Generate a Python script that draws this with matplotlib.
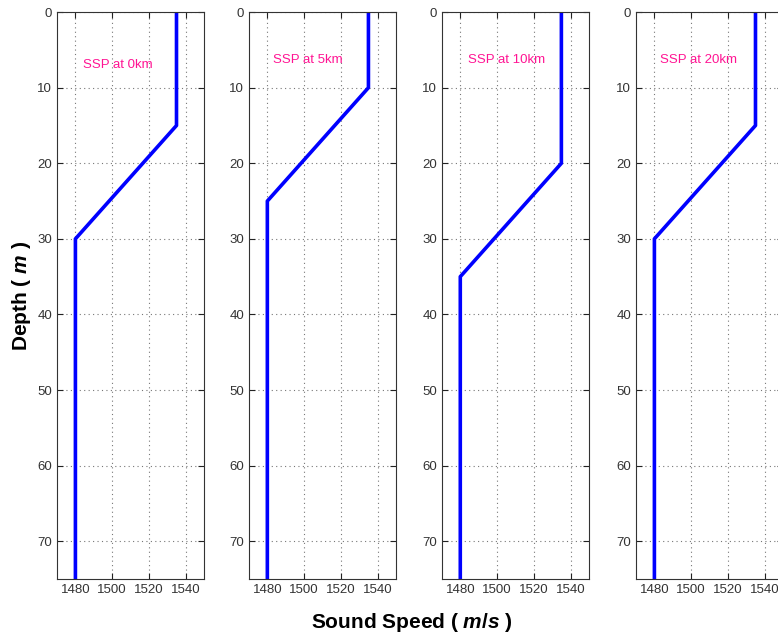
import numpy as np
import matplotlib
matplotlib.use("Agg")
import matplotlib.pyplot as plt

plt.rcParams['font.family'] = ['Liberation Sans', 'DejaVu Sans']
plt.rcParams['mathtext.fontset'] = 'custom'
plt.rcParams['mathtext.it'] = 'Liberation Sans:bold:italic'
plt.rcParams['mathtext.rm'] = 'Liberation Sans:bold'

# Sound speed profiles: (depth, speed) breakpoints per range
ranges = ["0km", "5km", "10km", "20km"]
depths = [
    [0, 15, 30, 75],
    [0, 10, 25, 75],
    [0, 20, 35, 75],
    [0, 15, 30, 75],
]
speeds = [
    [1535, 1535, 1480, 1480],
    [1535, 1535, 1480, 1480],
    [1535, 1535, 1480, 1480],
    [1535, 1535, 1480, 1480],
]
label_pos = [(1503, 7), (1502, 6.4), (1505, 6.4), (1504, 6.4)]
xticks = [1480, 1500, 1520, 1540]
yticks = [0, 10, 20, 30, 40, 50, 60, 70]

fig = plt.figure(figsize=(7.78, 6.37), dpi=100)
lefts = [0.0733, 0.320, 0.568, 0.8175]

for i in range(4):
    ax = fig.add_axes([lefts[i], 0.091, 0.189, 0.890])
    ax.plot(speeds[i], depths[i], color='#0000ff', linewidth=2.6)
    ax.set_xlim(1470, 1550)
    ax.set_ylim(75, 0)
    ax.set_xticks(xticks)
    ax.set_yticks(yticks)
    ax.grid(True, linestyle=(0, (1, 3)), color='#777777', linewidth=0.8)
    ax.tick_params(direction='in', length=4, labelsize=9.5, colors='#222222',
                   right=True, top=True, labelcolor='#333333')
    for s in ax.spines.values():
        s.set_color('#333333')
        s.set_linewidth(0.8)
    ax.text(label_pos[i][0], label_pos[i][1], "SSP at " + ranges[i],
            color='#ff1493', fontsize=9.5, ha='center', va='center')

fig.text(0.028, 0.535, r"Depth ( $\it{m}$ )", rotation=90, fontsize=15,
         fontweight='bold', ha='center', va='center')
fig.text(0.53, 0.022, r"Sound Speed ( $\it{m/s}$ )", fontsize=15,
         fontweight='bold', ha='center', va='center')

fig.savefig("out.png", dpi=100)
